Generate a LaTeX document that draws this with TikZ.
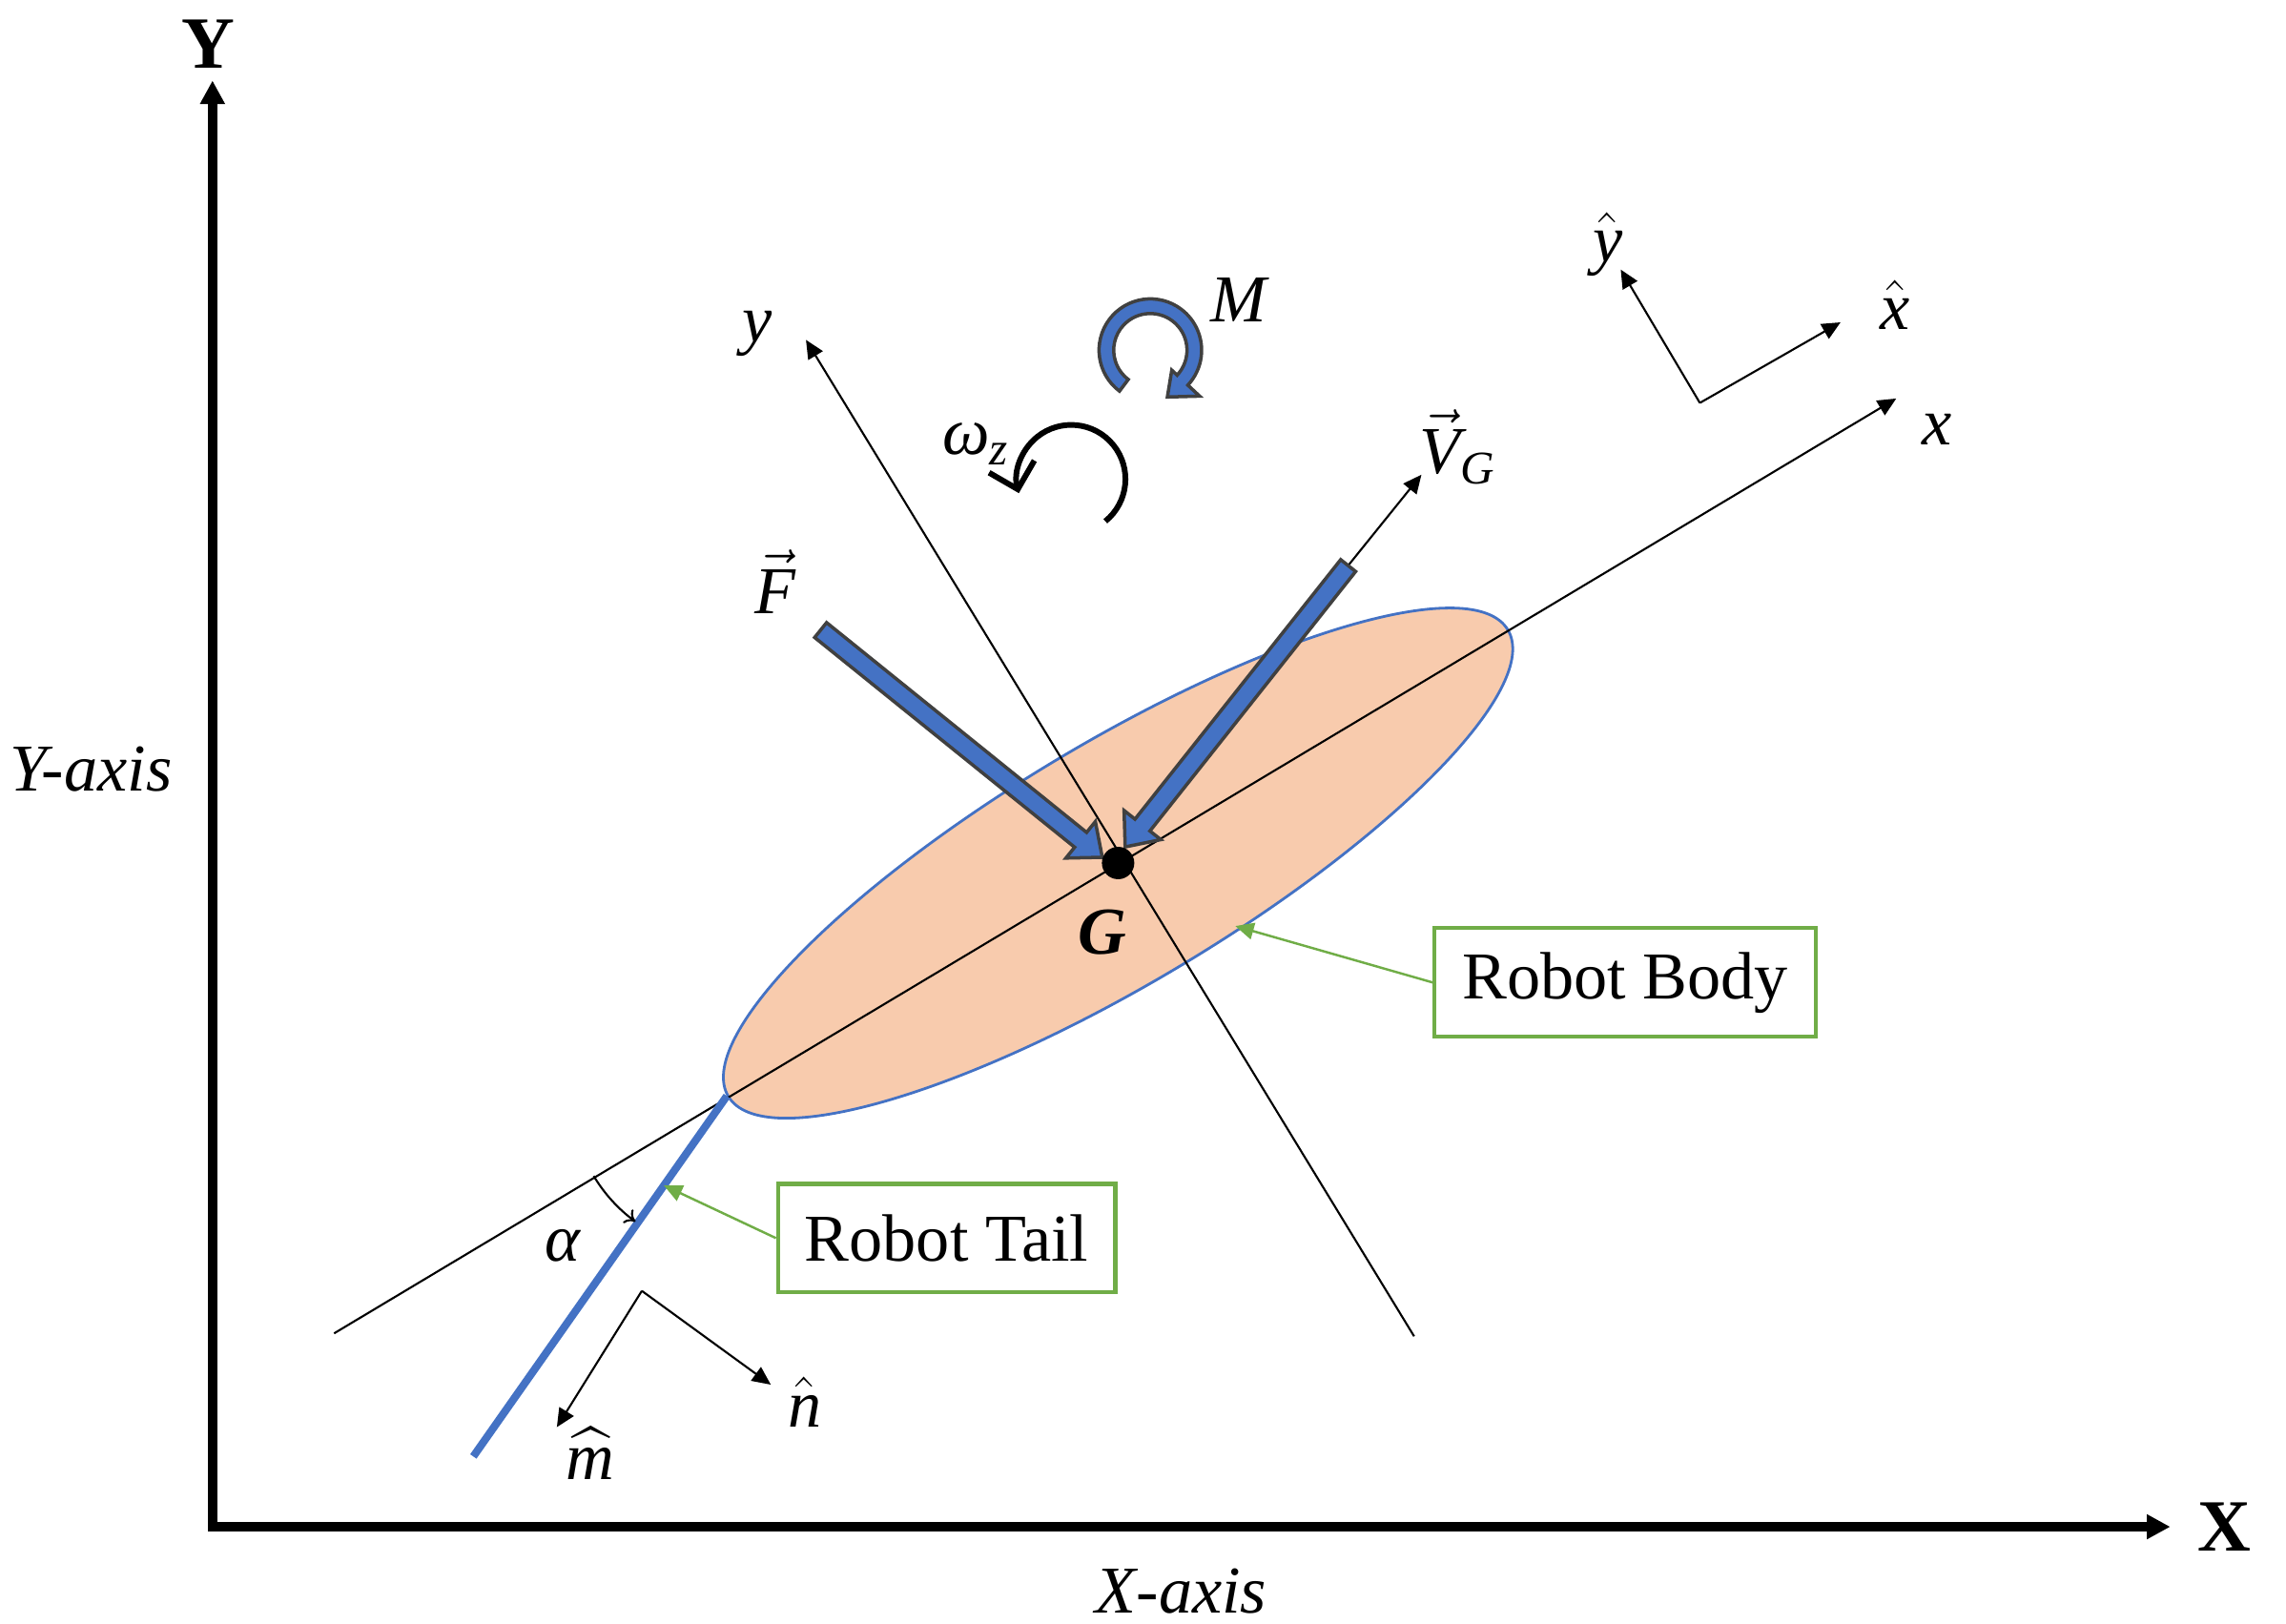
\documentclass[tikz,border=0pt]{standalone}
\usepackage{amsmath}
\usepackage{fontspec}
\setmainfont{Liberation Serif}
\usetikzlibrary{arrows.meta,calc}
\definecolor{robotblue}{RGB}{68,114,196}
\definecolor{bodyfill}{RGB}{248,203,173}
\definecolor{boxgreen}{RGB}{112,173,71}
\definecolor{edgegray}{RGB}{64,64,64}
\newcommand{\blockarrow}[3]{%
  \begin{scope}[shift={(#1)},rotate=#2]
    \draw[block arrow] (0,6.5) -- (#3-19,6.5) -- (#3-19,16) -- (#3,0)
      -- (#3-19,-16) -- (#3-19,-6.5) -- (0,-6.5) -- cycle;
  \end{scope}}

\begin{document}
\begin{tikzpicture}[x=0.0153846cm,y=0.0153846cm,>={Triangle[length=5.5pt,width=5pt]},
  main node/.style={font=\fontsize{20}{24}\selectfont,inner sep=1pt},
  big node/.style={font=\fontsize{22}{26}\selectfont\bfseries,inner sep=1pt},
  thin line/.style={line width=0.6pt},
  block arrow/.style={fill=robotblue,draw=edgegray,line width=1pt,line join=miter},
  label box/.style={main node,draw=boxgreen,line width=1.2pt,minimum height=1.14cm},
  green arrow/.style={draw=boxgreen,line width=0.7pt,-{Triangle[length=5.5pt,width=5pt]}}]
  \useasboundingbox (0,0) rectangle (1560,1108);
  % global frame
  \coordinate (O)    at (145,66);
  \coordinate (Ytip) at (145,1053);
  \coordinate (Xtip) at (1481,66);
  \draw[line width=3pt,line join=miter,
    {Triangle[length=7pt,width=7pt]}-{Triangle[length=7pt,width=7pt]}] (Ytip) -- (O) -- (Xtip);
  \node[big node]  (Ylab) at (142,1078) {Y};
  \node[big node]  (Xlab) at (1518,66)  {X};
  \node[main node] (Yax)  at (62,583)   {\textit{Y-axis}};
  \node[main node] (Xax)  at (806,22)   {\textit{X-axis}};

  % body and body axes
  \coordinate (Gc) at (763,519);
  \draw[fill=bodyfill,draw=robotblue,line width=0.8pt,rotate around={30.9:(Gc)}]
    (Gc) ellipse [x radius=310,y radius=82];
  \coordinate (xa) at (228,198);
  \coordinate (xb) at (1294,836);
  \coordinate (ya) at (965,196);
  \coordinate (yb) at (550,876);
  \draw[thin line,->] (xa) -- (xb);
  \draw[thin line,->] (ya) -- (yb);
  \node[main node] (xlab) at (1322,815) {$\textit{x}$};
  \node[main node] (ylab) at (517,880)  {$\textit{y}$};

  % tail
  \coordinate (tailtop) at (496,360);
  \coordinate (tailend) at (323,114);
  \draw[robotblue,line width=2.3pt] (tailtop) -- (tailend);
  \draw[thin line,-{To[length=3pt,width=5pt]}] ($(tailtop)+(211:106)$)
    arc[start angle=211,end angle=234,radius=106];
  \node[main node] (alab) at (384,258) {\textit{α}};

  % tail frame
  \coordinate (mnO)  at (438,227);
  \coordinate (mtip) at (380,134);
  \coordinate (ntip) at (526,163);
  \path[thin line] (mnO) edge[->] (mtip) edge[->] (ntip);
  \node[main node] (mlab) at (403,116) {$\widehat{\textit{m}}$};
  \node[main node] (nlab) at (549,151) {$\hat{\textit{n}}$};

  % unit vectors
  \coordinate (hatO)  at (1160,833);
  \coordinate (yhtip) at (1106,924);
  \coordinate (xhtip) at (1256,888);
  \path[thin line] (hatO) edge[->] (yhtip) edge[->] (xhtip);
  \node[main node] (yhlab) at (1097,941) {$\hat{\textit{y}}$};
  \node[main node] (xhlab) at (1293,900) {$\hat{\textit{x}}$};

  % moment and angular velocity
  \coordinate (Mc) at (785,869);
  \draw[block arrow] ($(Mc)+(233:35)$) arc[start angle=233,end angle=-43,radius=35]
    -- ($(Mc)+(-43:46)$) -- ($(Mc)+(-70:34)$) -- ($(Mc)+(-43:20)$) -- ($(Mc)+(-43:25)$)
    arc[start angle=-43,end angle=233,radius=25] -- cycle;
  \node[main node] (Mlab) at (845,903) {$\textit{M}$};
  \coordinate (Wc) at (731,781);
  \draw[line width=1.7pt,-{Straight Barb[length=7pt,width=14pt]}] ($(Wc)+(-51:37)$)
    arc[start angle=-51,end angle=195,radius=37];
  \node[main node] (wlab) at (666,805) {$\textit{ω}_{\textit{z}}$};

  % force and velocity
  \coordinate (Ftail) at (560,678);
  \blockarrow{Ftail}{-38.9}{247}
  \node[main node] (Flab) at (529,711) {$\vec{\textit{F}}$};
  \coordinate (Vtail) at (920,722);
  \coordinate (Vtip)  at (970,784);
  \draw[thin line,->] (Vtail) -- (Vtip);
  \blockarrow{Vtail}{231.6}{245}
  \node[main node] (Vlab) at (995,803) {$\vec{\textit{V}}_{\textit{G}}$};

  \node[circle,fill,inner sep=0pt,minimum size=0.34cm] (G) at (Gc) {};
  \node[main node] (Glab) at (752,472) {\textbf{\textit{G}}};

  % labels
  \node[label box,minimum width=3.54cm] (tailbox) at (646,263)   {Robot Tail};
  \node[label box,minimum width=4cm]    (bodybox) at (1109,437.5) {Robot Body};
  \coordinate (tailpt) at (453,299);
  \coordinate (bodypt) at (843,476);
  \draw[green arrow] (tailbox.west) -- (tailpt);
  \draw[green arrow] (bodybox.west) -- (bodypt);
\end{tikzpicture}
\end{document}
